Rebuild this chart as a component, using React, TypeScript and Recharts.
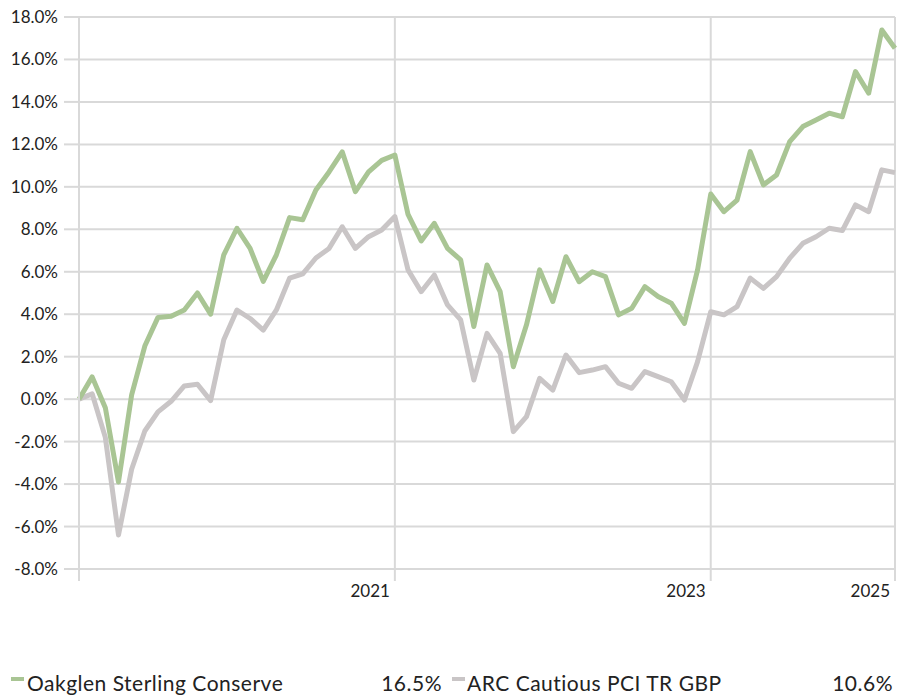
import React from "react";
import { LineChart, Line, XAxis, YAxis, CartesianGrid } from "recharts";

const months: string[] = [
  "Dec 2019",
  "Jan 2020", "Feb 2020", "Mar 2020", "Apr 2020", "May 2020", "Jun 2020",
  "Jul 2020", "Aug 2020", "Sep 2020", "Oct 2020", "Nov 2020", "Dec 2020",
  "Jan 2021", "Feb 2021", "Mar 2021", "Apr 2021", "May 2021", "Jun 2021",
  "Jul 2021", "Aug 2021", "Sep 2021", "Oct 2021", "Nov 2021", "Dec 2021",
  "Jan 2022", "Feb 2022", "Mar 2022", "Apr 2022", "May 2022", "Jun 2022",
  "Jul 2022", "Aug 2022", "Sep 2022", "Oct 2022", "Nov 2022", "Dec 2022",
  "Jan 2023", "Feb 2023", "Mar 2023", "Apr 2023", "May 2023", "Jun 2023",
  "Jul 2023", "Aug 2023", "Sep 2023", "Oct 2023", "Nov 2023", "Dec 2023",
  "Jan 2024", "Feb 2024", "Mar 2024", "Apr 2024", "May 2024", "Jun 2024",
  "Jul 2024", "Aug 2024", "Sep 2024", "Oct 2024", "Nov 2024", "Dec 2024",
  "Jan 2025", "Feb 2025",
];

const oakglen: number[] = [
  0.0, 1.05, -0.4, -3.9, 0.2, 2.5, 3.85, 3.9, 4.2, 5.0, 4.0, 6.8, 8.05,
  7.1, 5.55, 6.8, 8.55, 8.45, 9.85, 10.7, 11.65, 9.77, 10.7, 11.25, 11.5,
  8.7, 7.45, 8.28, 7.1, 6.56, 3.42, 6.32, 5.06, 1.53, 3.5, 6.09, 4.6,
  6.71, 5.53, 6.0, 5.77, 3.97, 4.28, 5.3, 4.83, 4.52, 3.57, 6.09, 9.66,
  8.83, 9.38, 11.66, 10.09, 10.56, 12.13, 12.84, 13.15, 13.47, 13.3, 15.43, 14.41,
  17.39, 16.53,
];

const arc: number[] = [
  0.0, 0.25, -1.8, -6.4, -3.3, -1.5, -0.6, -0.1, 0.62, 0.7, -0.07, 2.8, 4.2,
  3.8, 3.25, 4.2, 5.7, 5.9, 6.65, 7.1, 8.12, 7.1, 7.65, 7.97, 8.6,
  6.09, 5.06, 5.85, 4.44, 3.73, 0.9, 3.1, 2.16, -1.53, -0.82, 0.98, 0.43,
  2.08, 1.25, 1.37, 1.53, 0.75, 0.51, 1.3, 1.06, 0.82, -0.04, 1.77, 4.12,
  3.97, 4.36, 5.7, 5.22, 5.77, 6.64, 7.34, 7.65, 8.05, 7.94, 9.15, 8.83,
  10.8, 10.67,
];

const xTickCategories: string[] = ["Dec 2019", "Dec 2021", "Dec 2023", "Feb 2025"];
const xTickLabels: string[] = ["", "2021", "2023", "2025"];
const yTicks: number[] = [-8, -6, -4, -2, 0, 2, 4, 6, 8, 10, 12, 14, 16, 18];

const seriesNames: string[] = ["Oakglen Sterling Conserve", "ARC Cautious PCI TR GBP"];
const seriesFinal: string[] = ["16.5%", "10.6%"];

const GREEN = "#a9c594";
const GREY = "#c9c5c6";
const GRID = "#d9d9d9";
const TEXT = "#222222";
const FONT = "Lato, 'Noto Sans', sans-serif";

const data = months.map((m, i) => ({ month: m, oakglen: oakglen[i], arc: arc[i] }));

const XTick = (props: any) => {
  const { x, y, payload } = props;
  const idx = xTickCategories.indexOf(payload.value);
  const label = idx >= 0 ? xTickLabels[idx] : "";
  return (
    <text x={x - 5} y={y} dy={16} textAnchor="end" fill={TEXT} fontSize={17} fontFamily={FONT}>
      {label}
    </text>
  );
};

export default function App() {
  return (
    <div style={{ position: "absolute", left: 0, top: 0, width: 897, height: 697, background: "#fff" }}>
      <LineChart
        width={897}
        height={697}
        data={data}
        margin={{ top: 17, right: 2, bottom: 88, left: 0 }}
      >
        <CartesianGrid stroke={GRID} strokeWidth={2} vertical={true} horizontal={true} />
        <XAxis
          dataKey="month"
          type="category"
          ticks={xTickCategories}
          interval={0}
          height={40}
          tickSize={12}
          tickMargin={0}
          tickLine={{ stroke: GRID, strokeWidth: 2 }}
          axisLine={{ stroke: GRID, strokeWidth: 2 }}
          tick={<XTick />}
        />
        <YAxis
          type="number"
          domain={[-8, 18]}
          ticks={yTicks}
          interval={0}
          width={79}
          tickSize={15}
          tickMargin={6}
          tickLine={{ stroke: GRID, strokeWidth: 2 }}
          axisLine={{ stroke: GRID, strokeWidth: 2 }}
          tickFormatter={(v: number) => v.toFixed(1) + "%"}
          tick={{ fill: TEXT, fontSize: 17, fontFamily: FONT }}
        />
        <Line
          type="linear"
          dataKey="arc"
          stroke={GREY}
          strokeWidth={5}
          dot={false}
          isAnimationActive={false}
          strokeLinejoin="round"
        />
        <Line
          type="linear"
          dataKey="oakglen"
          stroke={GREEN}
          strokeWidth={5}
          dot={false}
          isAnimationActive={false}
          strokeLinejoin="round"
        />
      </LineChart>
      <svg
        width={897}
        height={40}
        style={{ position: "absolute", left: 0, top: 655 }}
        fontFamily={FONT}
      >
        <rect x={11} y={22} width={13} height={4} fill={GREEN} />
        <text x={27} y={36} fontSize={21} letterSpacing={0.5} fill={TEXT}>{seriesNames[0]}</text>
        <text x={442} y={36} fontSize={21} letterSpacing={0.5} fill={TEXT} textAnchor="end">{seriesFinal[0]}</text>
        <rect x={452} y={22} width={13} height={4} fill={GREY} />
        <text x={467} y={36} fontSize={21} letterSpacing={0.5} fill={TEXT}>{seriesNames[1]}</text>
        <text x={893} y={36} fontSize={21} letterSpacing={0.5} fill={TEXT} textAnchor="end">{seriesFinal[1]}</text>
      </svg>
    </div>
  );
}
